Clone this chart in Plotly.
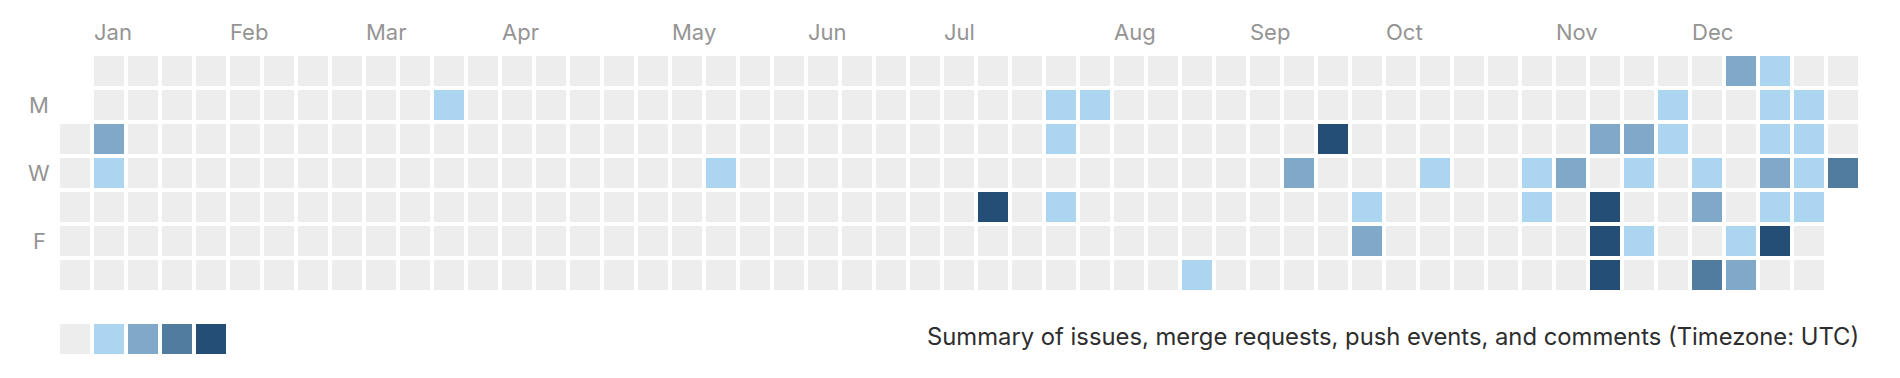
import plotly.graph_objects as go

# ---- data ----
n_weeks = 53
day_names = ["Sun", "Mon", "Tue", "Wed", "Thu", "Fri", "Sat"]
first_week_start_day = 2   # column 0 starts on Tuesday
last_week_end_day = 3      # last column ends on Wednesday

month_names = ["Jan", "Feb", "Mar", "Apr", "May", "Jun", "Jul", "Aug", "Sep", "Oct", "Nov", "Dec"]
month_weeks = [1, 5, 9, 13, 18, 22, 26, 31, 35, 39, 44, 48]

day_label_text = ["M", "W", "F"]
day_label_rows = [1, 3, 5]

# active cells: week column, weekday row, activity level (1-4)
cell_week = [1, 1, 11, 19, 27, 29, 29, 29, 30, 33,
             36, 37, 38, 38, 40, 43, 43, 44, 45, 45, 45, 45,
             46, 46, 46, 47, 47, 48, 48, 48, 49, 49, 49,
             50, 50, 50, 50, 50, 50, 51, 51, 51, 51, 52]
cell_day = [2, 3, 1, 3, 4, 1, 2, 4, 1, 6,
            3, 2, 4, 5, 3, 3, 4, 3, 2, 4, 5, 6,
            2, 3, 5, 1, 2, 3, 4, 6, 0, 5, 6,
            0, 1, 2, 3, 4, 5, 1, 2, 3, 4, 3]
cell_level = [2, 1, 1, 1, 4, 1, 1, 1, 1, 1,
              2, 4, 1, 2, 1, 1, 1, 2, 2, 4, 4, 4,
              2, 1, 1, 1, 1, 1, 2, 3, 2, 1, 2,
              1, 1, 1, 2, 1, 4, 1, 1, 1, 1, 3]

legend_levels = [0, 1, 2, 3, 4]
level_colors = ["#ededed", "#acd5f2", "#7fa8c9", "#527ba0", "#254e77"]
summary_text = "Summary of issues, merge requests, push events, and comments (Timezone: UTC)"

# ---- build grid ----
z = []
for d in range(7):
    row = []
    for w in range(n_weeks):
        if (w == 0 and d < first_week_start_day) or (w == n_weeks - 1 and d > last_week_end_day):
            row.append(None)
        else:
            row.append(0)
    z.append(row)
for w, d, lv in zip(cell_week, cell_day, cell_level):
    z[d][w] = lv

colorscale = []
for i, c in enumerate(level_colors):
    colorscale.append([i / 5, c])
    colorscale.append([(i + 1) / 5, c])

W, H = 1900, 378
OFF = 8  # page body margin offset compensation
def px(x):
    return (x - OFF) / W
def py(y):
    return 1 - (y - OFF) / H

grid_left, pitch = 58, 34
grid_top = 54

fig = go.Figure()
fig.add_trace(go.Heatmap(
    z=z, x=list(range(n_weeks)), y=list(range(7)),
    colorscale=colorscale, zmin=-0.5, zmax=4.5, showscale=False,
    xgap=4, ygap=4, hoverongaps=False,
    customdata=[[day_names[d]] * n_weeks for d in range(7)],
    hovertemplate="Week %{x}, %{customdata}: level %{z}<extra></extra>",
    xaxis="x", yaxis="y",
))
fig.add_trace(go.Heatmap(
    z=[legend_levels], x=list(range(len(legend_levels))), y=[0],
    colorscale=colorscale, zmin=-0.5, zmax=4.5, showscale=False,
    xgap=4, ygap=4, hovertemplate="level %{z}<extra></extra>",
    xaxis="x2", yaxis="y2",
))

ax_common = dict(showgrid=False, zeroline=False, showticklabels=False, ticks="", showline=False, fixedrange=True)
fig.update_layout(
    width=W, height=H,
    margin=dict(l=0, r=0, t=0, b=0),
    paper_bgcolor="white", plot_bgcolor="white",
    showlegend=False,
    xaxis=dict(domain=[px(grid_left), px(grid_left + pitch * n_weeks)], range=[-0.5, n_weeks - 0.5], **ax_common),
    yaxis=dict(domain=[py(grid_top + pitch * 7), py(grid_top)], range=[6.5, -0.5], **ax_common),
    xaxis2=dict(domain=[px(grid_left), px(grid_left + pitch * 5)], range=[-0.5, 4.5], anchor="y2", **ax_common),
    yaxis2=dict(domain=[py(356), py(322)], range=[-0.5, 0.5], anchor="x2", **ax_common),
    font=dict(family="Inter, Liberation Sans, sans-serif"),
)

annotations = []
for name, wk in zip(month_names, month_weeks):
    annotations.append(dict(
        text=name, x=wk, xref="x", xanchor="left", xshift=-17,
        y=py(32.5), yref="paper", yanchor="middle", showarrow=False,
        font=dict(size=22, color="#959494"),
    ))
for t, r in zip(day_label_text, day_label_rows):
    annotations.append(dict(
        text=t, x=px(39), xref="paper", xanchor="center",
        y=r, yref="y", yanchor="middle", showarrow=False,
        font=dict(size=22, color="#959494"),
    ))
annotations.append(dict(
    text=summary_text, x=px(1861), xref="paper", xanchor="right",
    y=py(336), yref="paper", yanchor="middle", showarrow=False,
    font=dict(size=23.8, color="#2e2e2e"),
))
fig.update_layout(annotations=annotations)

fig.write_html("out.html")
